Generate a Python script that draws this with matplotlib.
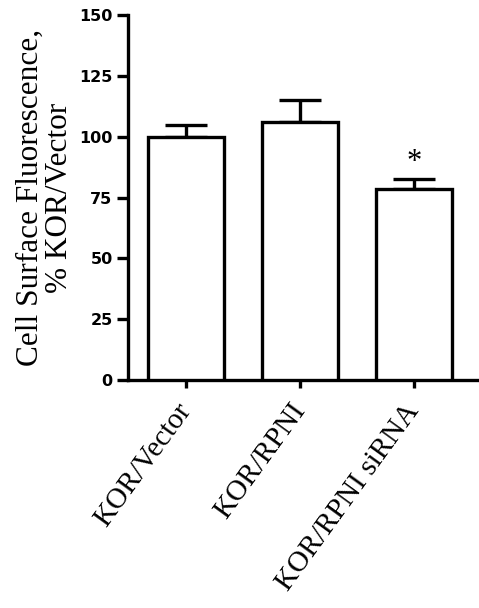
import matplotlib
matplotlib.use("Agg")
import matplotlib.pyplot as plt

categories = ["KOR/Vector", "KOR/RPNI", "KOR/RPNI siRNA"]
values = [100.0, 106.0, 78.5]
errors_up = [5.0, 9.0, 4.0]
star_index = 2
star_y = 89.5
y_ticks = [0, 25, 50, 75, 100, 125, 150]

fig = plt.figure(figsize=(4.79, 6.08), dpi=100)
ax = fig.add_axes([0.267, 0.375, 0.733, 0.6003])

x = list(range(len(categories)))
lw = 2.4
ax.bar(x, values, width=0.66, color="white", edgecolor="black", linewidth=lw, zorder=3)
ax.errorbar(x, values, yerr=[[0] * len(values), errors_up], fmt="none",
            ecolor="black", elinewidth=lw, capsize=15, capthick=lw, zorder=2)
ax.text(x[star_index], star_y, "*", ha="center", va="center",
        fontsize=22, family="Liberation Serif")

ax.set_xlim(-0.509, 2.57)
ax.set_ylim(0, 150)
ax.set_yticks(y_ticks)
ax.set_yticklabels([str(t) for t in y_ticks], fontsize=11.5, fontweight="bold",
                   family="DejaVu Sans")
ax.set_xticks(x)
ax.set_xticklabels(categories, rotation=54, ha="right", va="center",
                   rotation_mode="anchor", fontsize=21, family="Liberation Serif")
ax.tick_params(axis="x", length=6, width=lw, pad=13)
ax.tick_params(axis="y", length=8, width=lw, pad=3)

for s in ["top", "right"]:
    ax.spines[s].set_visible(False)
for s in ["left", "bottom"]:
    ax.spines[s].set_linewidth(lw)

ax.set_ylabel("Cell Surface Fluorescence,\n% KOR/Vector", fontsize=22.5,
              family="Liberation Serif", linespacing=1.0, labelpad=4)

fig.savefig("out.png", dpi=100)
